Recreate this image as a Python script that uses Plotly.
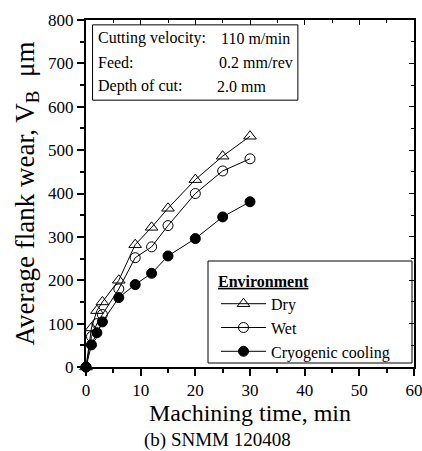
import plotly.graph_objects as go

time_min = [0, 1, 2, 3, 6, 9, 12, 15, 20, 25, 30]
dry = [0, 90, 130, 150, 200, 282, 322, 366, 432, 486, 532]
wet = [0, 70, 100, 121, 180, 252, 277, 326, 400, 452, 480]
cryo = [0, 51, 79, 104, 160, 190, 216, 256, 296, 346, 381]

FONT = "Liberation Serif"

fig = go.Figure()
series = [
    ("Dry", dry, dict(symbol="triangle-up-open", size=11, color="black", line=dict(width=1, color="black"))),
    ("Wet", wet, dict(symbol="circle-open", size=10, color="black", line=dict(width=1, color="black"))),
    ("Cryogenic cooling", cryo, dict(symbol="circle", size=10, color="black", line=dict(width=1, color="black"))),
]
for name, ys, mk in series:
    fig.add_trace(go.Scatter(
        x=time_min, y=ys, name=name, mode="lines+markers",
        line=dict(color="black", width=1), marker=mk, cliponaxis=False,
    ))

fig.add_trace(go.Scatter(x=[None], y=[None], xaxis="x2", yaxis="y2", showlegend=False))

axis_common = dict(
    showgrid=False, zeroline=False, showline=True, linecolor="black", linewidth=2,
    tickcolor="black", tickfont=dict(family=FONT, size=17, color="black"), automargin=False,
)

fig.update_layout(
    width=422, height=451,
    margin=dict(l=86, r=8, t=20, b=84),
    paper_bgcolor="white", plot_bgcolor="white",
    font=dict(family=FONT, color="black"),
    xaxis=dict(
        **axis_common, range=[0, 60], tickmode="array", tickvals=[0, 10, 20, 30, 40, 50, 60],
        ticks="outside", ticklen=7, tickwidth=2, ticklabeloverflow="allow",
        minor=dict(tickvals=[5, 15, 25, 35, 45, 55], ticks="outside", ticklen=4, tickwidth=2, tickcolor="black"),
        title=dict(text="Machining time, min", font=dict(family=FONT, size=24, color="black"), standoff=0),
    ),
    yaxis=dict(
        **axis_common, range=[0, 800], tickmode="array", tickvals=list(range(0, 801, 100)),
        ticks="outside", ticklen=7, tickwidth=2,
        minor=dict(tickvals=list(range(50, 800, 100)), ticks="outside", ticklen=4, tickwidth=2, tickcolor="black"),
        title=dict(text="Average flank wear, V<sub>B</sub>  μm", font=dict(family=FONT, size=27, color="black"), standoff=6),
    ),
    xaxis2=dict(
        overlaying="x", side="top", range=[0, 60], showgrid=False, zeroline=False, automargin=False,
        showline=True, linecolor="black", linewidth=2, showticklabels=False,
        tickvals=[0, 10, 20, 30, 40, 50, 60], ticks="inside", ticklen=5, tickwidth=1, tickcolor="black",
        minor=dict(tickvals=[5, 15, 25, 35, 45, 55], ticks="inside", ticklen=3, tickwidth=1, tickcolor="black"),
    ),
    yaxis2=dict(
        overlaying="y", side="right", range=[0, 800], showgrid=False, zeroline=False, automargin=False,
        showline=True, linecolor="black", linewidth=2, showticklabels=False,
        tickvals=list(range(0, 801, 100)), ticks="inside", ticklen=5, tickwidth=1, tickcolor="black",
        minor=dict(tickvals=list(range(50, 800, 100)), ticks="inside", ticklen=3, tickwidth=1, tickcolor="black"),
    ),
    showlegend=True,
    legend=dict(
        x=(216 - 86) / 328, y=(367 - 266) / 347, xanchor="left", yanchor="top",
        borderwidth=0, bgcolor="rgba(0,0,0,0)",
        font=dict(family=FONT, size=16, color="black"),
        title=dict(text="<b><u>Environment</u></b>", font=dict(family=FONT, size=16, color="black")),
        itemwidth=45, tracegroupgap=0,
    ),
)

# legend frame
fig.add_shape(type="rect", xref="paper", yref="paper",
              x0=(208 - 86) / 328, x1=(412 - 86) / 328, y0=(367 - 363) / 347, y1=(367 - 261) / 347,
              line=dict(color="black", width=1), fillcolor="white", layer="below")

# parameter box
fig.add_shape(type="rect", xref="paper", yref="paper", x0=0.02, x1=0.646, y0=0.769, y1=0.986,
              line=dict(color="black", width=1), fillcolor="white")
labels = ["Cutting velocity:", "Feed:", "Depth of cut:"]
values = ["110 m/min", "0.2 mm/rev", "2.0 mm"]
value_x = [219, 217, 215]
row_y = [38, 62, 86]
for lab, val, vx, ry in zip(labels, values, value_x, row_y):
    yp = (367 - ry) / 347
    fig.add_annotation(xref="paper", yref="paper", x=(96 - 86) / 328, y=yp, text=lab,
                       showarrow=False, xanchor="left", yanchor="middle",
                       font=dict(family=FONT, size=16, color="black"))
    fig.add_annotation(xref="paper", yref="paper", x=(vx - 86) / 328, y=yp, text=val,
                       showarrow=False, xanchor="left", yanchor="middle",
                       font=dict(family=FONT, size=16, color="black"))

fig.add_annotation(xref="paper", yref="paper", x=(217 - 86) / 328, y=(367 - 440) / 347,
                   text="(b) SNMM 120408", showarrow=False, xanchor="center", yanchor="middle",
                   font=dict(family=FONT, size=19, color="black"))

fig.write_html("out.html")
